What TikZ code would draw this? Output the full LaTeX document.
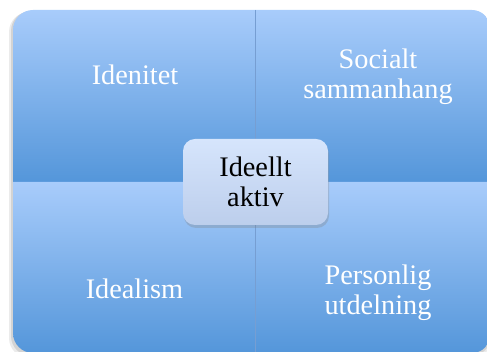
\documentclass[tikz,border=0pt]{standalone}
\usepackage{fontspec}
\setmainfont{Liberation Serif}
\usetikzlibrary{shadows}
\definecolor{quadtop}{RGB}{168,204,251}
\definecolor{quadbot}{RGB}{84,150,218}
\definecolor{midtop}{RGB}{214,229,252}
\definecolor{midbot}{RGB}{188,206,236}
\definecolor{divline}{RGB}{118,158,210}

\begin{document}
\begin{tikzpicture}[x=1pt,y=1pt,
	quad/.style={top color=quadtop,bottom color=quadbot},
	quadtext/.style={text=white,align=center,inner sep=0pt,font=\fontsize{28.3}{30}\selectfont},
	midbox/.style={top color=midtop,bottom color=midbot,rounded corners=12,minimum width=145,minimum height=86,
		align=center,inner sep=0pt,font=\fontsize{28.3}{30}\selectfont,
		drop shadow={opacity=0.3,shadow xshift=1,shadow yshift=-3}}]
			%%%%% START %%%%%
			\useasboundingbox (0,0) rectangle (487,352);
			
			\fill[black,opacity=0.08,rounded corners=20] (9,-6) rectangle (492,340);
			\fill[black,opacity=0.10,rounded corners=20] (11,-4) rectangle (491,341);
			
			\shade[quad] (13,170) -- (13,322) arc[start angle=180,end angle=90,radius=20] -- (255,342) -- (255,170) -- cycle;
			\shade[quad] (255,170) -- (255,342) -- (472,342) arc[start angle=90,end angle=0,radius=18] -- (490,170) -- cycle;
			\shade[quad] (13,170) -- (255,170) -- (255,-1) -- (33,-1) arc[start angle=270,end angle=180,radius=20] -- cycle;
			\shade[quad] (255,170) -- (490,170) -- (490,17) arc[start angle=0,end angle=-90,radius=18] -- (255,-1) -- cycle;
			
			\draw[divline,line width=0.8] (255,342) -- (255,-1);
			
			\node[quadtext,anchor=base] (idenitet) at (135,267) {Idenitet};
			\node[quadtext] (socialt) at (378,275) {Socialt\\sammanhang};
			\node[quadtext,anchor=base] (idealism) at (134.5,53) {Idealism};
			\node[quadtext] (personlig) at (378,59) {Personlig\\utdelning};
			
			\node[midbox] (aktiv) at (255.5,170) {Ideellt\\aktiv};
			%%%%% END %%%%%
\end{tikzpicture}
\end{document}
